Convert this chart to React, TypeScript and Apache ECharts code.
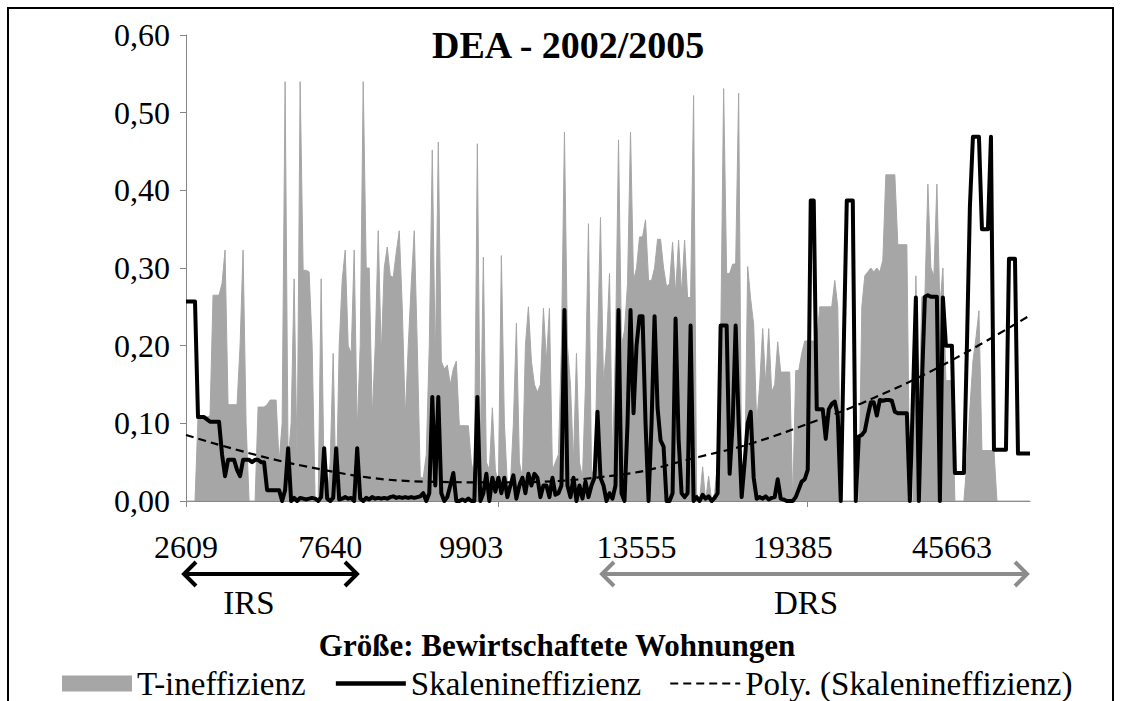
import React, { useEffect, useRef } from "react";
import * as echarts from "echarts";

const FONT = "'Liberation Serif', 'Times New Roman', serif";

// T-ineffizienz (grey area), one value per firm, sorted by size
const tIneffizienz = [
  0, 0, 0, 0, 0.108, 0.108, 0.108, 0.108, 0.11, 0.265,
  0.265, 0.265, 0.28, 0.323, 0.124, 0.124, 0.124, 0.124, 0.2, 0.323,
  0.1, 0, 0, 0, 0.121, 0.121, 0.121, 0.124, 0.13, 0.13,
  0.13, 0.05, 0.1, 0.54, 0.05, 0.1, 0.286, 0.05, 0.54, 0.297,
  0.297, 0.295, 0.2, 0, 0, 0.286, 0.02, 0, 0.05, 0.19,
  0, 0.2, 0.284, 0.323, 0.2, 0.19, 0.323, 0.09, 0.2, 0.54,
  0.3, 0.3, 0.108, 0.2, 0.348, 0.188, 0.3, 0.327, 0.29, 0.288,
  0.32, 0.348, 0.25, 0.108, 0.2, 0.28, 0.348, 0.2, 0.03, 0.03,
  0.06, 0.2, 0.452, 0.177, 0.462, 0.18, 0.17, 0.175, 0.15, 0.17,
  0.18, 0.097, 0.097, 0.097, 0.097, 0.05, 0.03, 0.46, 0.06, 0.314,
  0.05, 0.04, 0.12, 0.04, 0.02, 0.316, 0.1, 0.02, 0.02, 0.1,
  0.229, 0.05, 0.03, 0.2, 0.25, 0.18, 0.15, 0.14, 0.15, 0.248,
  0.18, 0.248, 0.04, 0.05, 0.06, 0.2, 0.475, 0.2, 0.15, 0.05,
  0.19, 0.05, 0.03, 0.15, 0.357, 0.04, 0.03, 0.2, 0.365, 0.15,
  0.2, 0.293, 0.05, 0.2, 0.465, 0.2, 0.22, 0.28, 0.475, 0.284,
  0.3, 0.34, 0.34, 0.362, 0.284, 0.284, 0.3, 0.337, 0.337, 0.3,
  0.276, 0.28, 0.333, 0.267, 0.336, 0.267, 0.336, 0.262, 0.262, 0.522,
  0.01, 0, 0.044, 0, 0.032, 0, 0.01, 0.05, 0.2, 0.531,
  0.293, 0.293, 0.305, 0.305, 0.525, 0.02, 0.02, 0.302, 0.26, 0.227,
  0.1, 0.15, 0.222, 0.15, 0.222, 0.14, 0.15, 0.205, 0.166, 0.166,
  0.166, 0.166, 0, 0.168, 0.168, 0.19, 0.206, 0.206, 0.206, 0.206,
  0.206, 0.25, 0.25, 0.25, 0.25, 0.25, 0.284, 0.25, 0, 0,
  0, 0, 0, 0, 0, 0.25, 0.29, 0.295, 0.3, 0.295,
  0.3, 0.295, 0.31, 0.42, 0.42, 0.42, 0.42, 0.33, 0.33, 0.33,
  0.33, 0, 0, 0.29, 0.1, 0.263, 0.263, 0.408, 0.3, 0.29,
  0.408, 0.25, 0.3, 0.155, 0.155, 0.155, 0, 0, 0, 0,
  0.05, 0.12, 0.18, 0.21, 0.245, 0.065, 0.065, 0.065, 0.065, 0.065,
  0, 0, 0, 0, 0, 0, 0, 0, 0, 0,
  0, 0,
];

// Skalenineffizienz (black line)
const skalenineffizienz = [
  0.257, 0.257, 0.257, 0.257, 0.108, 0.108, 0.108, 0.105, 0.102, 0.102,
  0.102, 0.102, 0.06, 0.032, 0.053, 0.053, 0.053, 0.04, 0.032, 0.053,
  0.053, 0.053, 0.05, 0.053, 0.053, 0.05, 0.05, 0.014, 0.014, 0.014,
  0.014, 0.014, 0, 0.014, 0.068, 0, 0.004, 0, 0.004, 0.003,
  0.002, 0.003, 0.004, 0.003, 0, 0.005, 0.068, 0.003, 0, 0.004,
  0.068, 0.002, 0.003, 0.005, 0.003, 0.004, 0, 0.068, 0.003, 0,
  0.004, 0.002, 0.005, 0.003, 0.004, 0.003, 0.004, 0.003, 0.005, 0.006,
  0.004, 0.005, 0.004, 0.005, 0.004, 0.005, 0.004, 0.005, 0.006, 0.01,
  0, 0.01, 0.134, 0.02, 0.134, 0.01, 0, 0.005, 0.02, 0.036,
  0, 0, 0.002, 0, 0.003, 0, 0, 0.134, 0, 0.01,
  0.035, 0, 0.03, 0.012, 0.03, 0.01, 0.03, 0.005, 0.02, 0.033,
  0.003, 0.02, 0.03, 0.01, 0.035, 0.02, 0.035, 0.03, 0.005, 0.02,
  0.02, 0.005, 0.03, 0.008, 0.01, 0.02, 0.246, 0.02, 0.005, 0.03,
  0, 0.02, 0.003, 0.025, 0.005, 0.02, 0.03, 0.115, 0.03, 0.02,
  0, 0.01, 0.003, 0.02, 0.246, 0.01, 0, 0.1, 0.246, 0.113,
  0.2, 0.238, 0.238, 0.1, 0, 0.1, 0.238, 0.12, 0.078, 0.07,
  0, 0, 0.01, 0.235, 0.08, 0.01, 0.005, 0.01, 0.226, 0,
  0.005, 0, 0.008, 0.003, 0.006, 0, 0.004, 0.01, 0.226, 0.226,
  0.226, 0.035, 0.1, 0.226, 0.1, 0.005, 0.05, 0.1, 0.115, 0.03,
  0.003, 0.005, 0.003, 0.006, 0.002, 0.004, 0.005, 0.028, 0.003, 0.002,
  0, 0, 0, 0.005, 0.015, 0.025, 0.028, 0.04, 0.387, 0.387,
  0.118, 0.118, 0.118, 0.08, 0.118, 0.125, 0.128, 0.11, 0, 0.2,
  0.387, 0.387, 0.387, 0, 0.083, 0.085, 0.09, 0.11, 0.127, 0.127,
  0.11, 0.13, 0.129, 0.13, 0.13, 0.129, 0.115, 0.113, 0.113, 0.113,
  0.113, 0, 0.13, 0.262, 0, 0.15, 0.263, 0.265, 0.263, 0.263,
  0.263, 0, 0.262, 0.2, 0.2, 0.2, 0.036, 0.036, 0.036, 0.036,
  0.2, 0.38, 0.469, 0.469, 0.469, 0.35, 0.35, 0.35, 0.469, 0.066,
  0.066, 0.066, 0.066, 0.066, 0.312, 0.312, 0.312, 0.061, 0.061, 0.061,
  0.061, 0.061,
];

// Polynomial trend line at a few firm positions
const polyTrendIndex = [0, 38, 79, 105, 145, 171, 189, 211, 225, 251, 281];
const polyTrendValue = [0.085, 0.046, 0.025, 0.024, 0.034, 0.057, 0.075, 0.105, 0.126, 0.173, 0.239];

// Size labels shown on the category axis and the firms they belong to
const sizeLabels = ["2609", "7640", "9903", "13555", "19385", "45663"];
const sizeLabelIndex = [0, 48, 95, 150, 202, 255];
const tickIndex = [0, 104, 207];

const firms = tIneffizienz.map((_, i) => String(i + 1));

export default function App() {
  const ref = useRef<HTMLDivElement>(null);

  useEffect(() => {
    if (!ref.current) return;
    const chart = echarts.init(ref.current, undefined, { renderer: "svg" });

    const axisGrey = "#868686";
    const areaGrey = "#a6a6a6";
    const drsGrey = "#8c8c8c";

    chart.setOption({
      animation: false,
      textStyle: { fontFamily: FONT, color: "#000" },
      title: {
        text: "DEA - 2002/2005",
        left: 427,
        top: 21,
        textStyle: { fontFamily: FONT, fontSize: 38, fontWeight: "bold", color: "#000" },
      },
      grid: { left: 186, right: 97, top: 35, bottom: 200, containLabel: false },
      legend: {
        left: 62,
        top: 667,
        padding: 0,
        itemWidth: 70,
        itemHeight: 16,
        itemGap: 28,
        textStyle: { fontFamily: FONT, fontSize: 33, lineHeight: 33, color: "#000" },
        data: [
          { name: "T-ineffizienz", icon: "rect", itemStyle: { color: areaGrey } },
          { name: "Skalenineffizienz", itemStyle: { opacity: 0 }, lineStyle: { width: 4.5 } },
          { name: "Poly. (Skalenineffizienz)", itemStyle: { opacity: 0 }, lineStyle: { width: 2.2 } },
        ],
      },
      xAxis: {
        type: "category",
        data: firms,
        boundaryGap: false,
        axisLine: { lineStyle: { color: axisGrey, width: 1 } },
        axisTick: {
          show: true,
          interval: (idx: number) => tickIndex.includes(idx),
          length: 6,
          lineStyle: { color: axisGrey },
        },
        axisLabel: {
          interval: (idx: number) => sizeLabelIndex.includes(idx),
          margin: 30,
          fontSize: 32,
          fontFamily: FONT,
          color: "#000",
          formatter: (_v: string, idx: number) => {
            const k = sizeLabelIndex.indexOf(idx);
            return k >= 0 ? sizeLabels[k] : "";
          },
        },
        splitLine: { show: false },
      },
      yAxis: {
        type: "value",
        min: 0,
        max: 0.6,
        interval: 0.1,
        axisLine: { show: true, lineStyle: { color: axisGrey, width: 1 } },
        axisTick: { show: true, length: 6, lineStyle: { color: axisGrey } },
        axisLabel: {
          margin: 16,
          fontSize: 32,
          fontFamily: FONT,
          color: "#000",
          formatter: (v: number) => v.toFixed(2).replace(".", ","),
        },
        splitLine: { show: false },
      },
      series: [
        {
          name: "T-ineffizienz",
          type: "line",
          data: tIneffizienz,
          symbol: "none",
          lineStyle: { color: areaGrey, width: 1 },
          itemStyle: { color: areaGrey },
          areaStyle: { color: areaGrey, opacity: 1 },
          z: 1,
        },
        {
          name: "Skalenineffizienz",
          type: "line",
          data: skalenineffizienz,
          symbol: "none",
          lineStyle: { color: "#000", width: 4, join: "round" },
          itemStyle: { color: "#000" },
          z: 3,
        },
        {
          name: "Poly. (Skalenineffizienz)",
          type: "line",
          data: polyTrendIndex.map((idx, k) => [idx, polyTrendValue[k]]),
          smooth: 0.4,
          symbol: "none",
          lineStyle: { color: "#000", width: 2.2, type: [8, 5] },
          itemStyle: { color: "#000" },
          z: 4,
        },
      ],
      graphic: [
        {
          type: "rect",
          silent: true,
          shape: { x: 8, y: 8, width: 1105, height: 720 },
          style: { fill: "none", stroke: "#000", lineWidth: 2 },
        },
        {
          type: "line",
          shape: { x1: 184, y1: 574, x2: 357, y2: 574 },
          style: { stroke: "#000", lineWidth: 4 },
        },
        {
          type: "polyline",
          shape: { points: [[196, 562], [184, 574], [196, 586]] },
          style: { stroke: "#000", lineWidth: 4, fill: "none" },
        },
        {
          type: "polyline",
          shape: { points: [[345, 562], [357, 574], [345, 586]] },
          style: { stroke: "#000", lineWidth: 4, fill: "none" },
        },
        {
          type: "text",
          x: 249,
          y: 603,
          style: {
            text: "IRS",
            fontSize: 33,
            fontFamily: FONT,
            fill: "#000",
            align: "center",
            verticalAlign: "middle",
          },
        },
        {
          type: "line",
          shape: { x1: 602, y1: 574, x2: 1027, y2: 574 },
          style: { stroke: drsGrey, lineWidth: 4 },
        },
        {
          type: "polyline",
          shape: { points: [[614, 562], [602, 574], [614, 586]] },
          style: { stroke: drsGrey, lineWidth: 4, fill: "none" },
        },
        {
          type: "polyline",
          shape: { points: [[1015, 562], [1027, 574], [1015, 586]] },
          style: { stroke: drsGrey, lineWidth: 4, fill: "none" },
        },
        {
          type: "text",
          x: 806,
          y: 603,
          style: {
            text: "DRS",
            fontSize: 33,
            fontFamily: FONT,
            fill: "#000",
            align: "center",
            verticalAlign: "middle",
          },
        },
        {
          type: "text",
          x: 557,
          y: 645,
          style: {
            text: "Größe: Bewirtschaftete Wohnungen",
            fontSize: 31,
            fontWeight: "bold",
            fontFamily: FONT,
            fill: "#000",
            align: "center",
            verticalAlign: "middle",
          },
        },
      ],
    });

    return () => chart.dispose();
  }, []);

  return (
    <div
      ref={ref}
      style={{ position: "fixed", left: 0, top: 0, width: 1127, height: 701, background: "#fff" }}
    />
  );
}
